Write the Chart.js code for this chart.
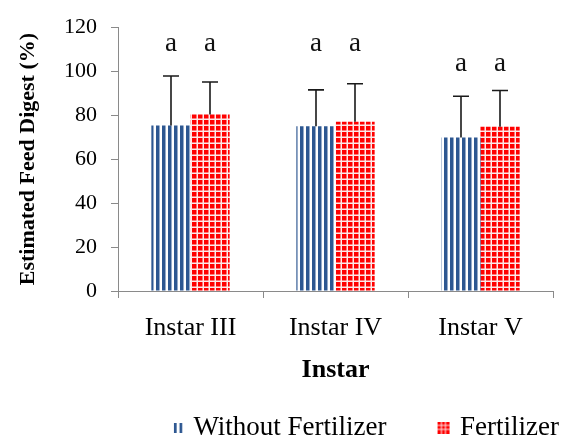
<!DOCTYPE html>
<html>
<head>
<meta charset="utf-8">
<script src="https://cdn.jsdelivr.net/npm/chart.js@4.4.0/dist/chart.umd.min.js"></script>
<style>
  html, body { margin: 0; padding: 0; background: #fff; }
  #wrap { width: 568px; height: 439px; }
</style>
</head>
<body>
<div id="wrap"><canvas id="chart" width="568" height="439"></canvas></div>
<script>
const categories = ['Instar III', 'Instar IV', 'Instar V'];
const seriesNames = ['Without Fertilizer', 'Fertilizer'];
const withoutFertilizer = [75.3, 75.0, 69.8];
const withFertilizer = [80.3, 77.0, 74.7];
// upper error bar lengths
const withoutFertilizerErr = [22.5, 16.5, 18.8];
const withFertilizerErr = [14.8, 17.3, 16.5];
// significance letters and the value of their baseline
const withoutFertilizerLetters = ['a', 'a', 'a'];
const withFertilizerLetters = ['a', 'a', 'a'];
const letterBase = [109, 109, 100];
const yTicks = [0, 20, 40, 60, 80, 100, 120];

const serif = '"Liberation Serif", "Times New Roman", serif';
const blue = '#2D5791';
const red = '#FF0000';
const axisGray = '#8A8A8A';

const canvas = document.getElementById('chart');
const ctx = canvas.getContext('2d');

function makeCanvas(w, h, draw) {
    const c = document.createElement('canvas');
    c.width = w; c.height = h;
    draw(c.getContext('2d'));
    return c;
}

// vertical stripes for the first series
const stripeTile = makeCanvas(6, 6, g => {
    g.fillStyle = '#fff'; g.fillRect(0, 0, 6, 6);
    g.fillStyle = blue; g.fillRect(0, 0, 3.5, 6);
});
// small grid for the second series
const gridTile = makeCanvas(6, 6, g => {
    g.fillStyle = red; g.fillRect(0, 0, 6, 6);
    g.fillStyle = '#fde8e8';
    g.fillRect(4.5, 0, 1.5, 6);
    g.fillRect(0, 4.5, 6, 1.5);
});
const stripeFill = ctx.createPattern(stripeTile, 'repeat');
const gridFill = ctx.createPattern(gridTile, 'repeat');

// legend swatches sit at the right end of a wide transparent box
const legendIcons = [
    makeCanvas(64, 10, g => {
        g.fillStyle = blue;
        g.fillRect(54, 0, 2.7, 10);
        g.fillRect(59.6, 0, 2.7, 10);
    }),
    makeCanvas(64, 12, g => {
        g.fillStyle = red; g.fillRect(51, 0, 12, 12);
        g.fillStyle = '#fde8e8';
        g.fillRect(54.4, 0, 1, 12); g.fillRect(58.4, 0, 1, 12);
        g.fillRect(51, 3.4, 12, 1); g.fillRect(51, 7.4, 12, 1);
    })
];

const errorBars = {
    id: 'errorBars',
    afterDatasetsDraw(chart) {
        const c = chart.ctx;
        const y = chart.scales.y;
        c.save();
        c.strokeStyle = '#1a1a1a';
        c.lineWidth = 1.6;
        c.fillStyle = '#111';
        c.font = '27px ' + serif;
        c.textAlign = 'center';
        c.textBaseline = 'alphabetic';
        chart.data.datasets.forEach((ds, di) => {
            const meta = chart.getDatasetMeta(di);
            meta.data.forEach((bar, i) => {
                const top = y.getPixelForValue(ds.data[i] + ds.err[i]);
                const x = Math.round(bar.x);
                c.beginPath();
                c.moveTo(x, bar.y);
                c.lineTo(x, top);
                c.moveTo(x - 8, top);
                c.lineTo(x + 8, top);
                c.stroke();
                c.fillText(ds.letters[i], bar.x, y.getPixelForValue(letterBase[i]));
            });
        });
        c.restore();
    }
};

new Chart(ctx, {
    type: 'bar',
    data: {
        labels: categories,
        datasets: [{
            label: seriesNames[0],
            data: withoutFertilizer,
            err: withoutFertilizerErr,
            letters: withoutFertilizerLetters,
            backgroundColor: stripeFill,
            borderWidth: 0
        }, {
            label: seriesNames[1],
            data: withFertilizer,
            err: withFertilizerErr,
            letters: withFertilizerLetters,
            backgroundColor: gridFill,
            borderWidth: 0
        }]
    },
    options: {
        responsive: false,
        animation: false,
        categoryPercentage: 0.54,
        barPercentage: 1.0,
        layout: { padding: { top: 25, right: 5, left: 0, bottom: -12 } },
        plugins: {
            tooltip: { enabled: false },
            legend: {
                position: 'bottom',
                align: 'end',
                labels: {
                    usePointStyle: true,
                    pointStyleWidth: 56,
                    padding: 4,
                    color: '#000',
                    font: { family: serif, size: 27 },
                    generateLabels: chart => chart.data.datasets.map((ds, i) => ({
                        text: ds.label,
                        pointStyle: legendIcons[i],
                        fillStyle: 'transparent',
                        strokeStyle: 'transparent',
                        lineWidth: 0,
                        hidden: false,
                        datasetIndex: i,
                        fontColor: '#000'
                    }))
                }
            }
        },
        scales: {
            x: {
                grid: { drawOnChartArea: false, drawTicks: true, tickLength: 7, color: axisGray, offset: true },
                border: { display: true, color: axisGray, width: 1 },
                ticks: { color: '#000', font: { family: serif, size: 26 }, padding: 15 },
                title: {
                    display: true, text: 'Instar', color: '#000',
                    font: { family: serif, size: 26, weight: 'bold' },
                    padding: { top: 0, bottom: 24 }
                },
                afterFit: s => { s.height = 119; }
            },
            y: {
                min: 0,
                max: 120,
                afterBuildTicks: s => { s.ticks = yTicks.map(v => ({ value: v })); },
                grid: { drawOnChartArea: false, drawTicks: true, tickLength: 7, color: axisGray },
                border: { display: true, color: axisGray, width: 1 },
                ticks: { color: '#000', font: { family: serif, size: 22 }, padding: 14 },
                title: {
                    display: true, text: 'Estimated Feed Digest (%)', color: '#000',
                    font: { family: serif, size: 22, weight: 'bold' },
                    padding: { top: 15, bottom: 0 }
                },
                afterFit: s => { s.width = 118; }
            },
            // empty spacer on the right so the legend can reach past the plot edge
            spacer: {
                position: 'right',
                grid: { display: false },
                border: { display: false },
                ticks: { display: false },
                afterFit: s => { s.width = 10; }
            }
        }
    },
    plugins: [errorBars]
});
</script>
</body>
</html>
